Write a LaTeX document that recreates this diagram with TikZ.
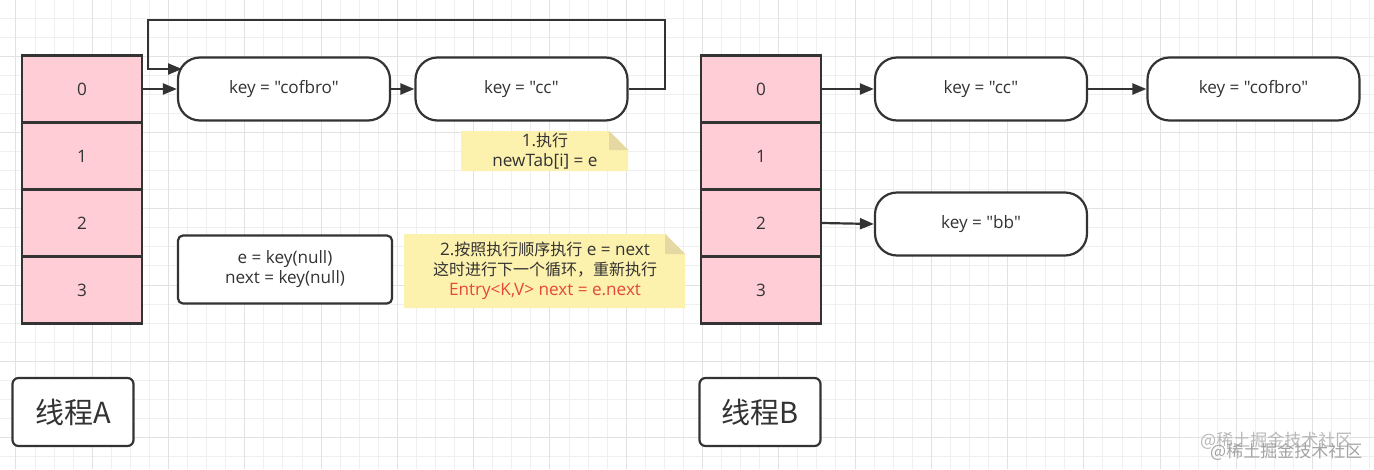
\documentclass[tikz,border=0pt]{standalone}
\usepackage{fontspec}
\setmainfont{Open Sans}[Scale=1.07, Ligatures=TeXOff]
\newfontfamily\cjk{Noto Sans CJK SC}
\usetikzlibrary{arrows.meta}
\definecolor{ink}{HTML}{333333}
\definecolor{cellpink}{HTML}{FFCDD5}
\definecolor{notefill}{HTML}{FDF1AE}
\definecolor{notefold}{HTML}{E6D8A2}
\definecolor{redtxt}{HTML}{E5483B}
\definecolor{gridminor}{HTML}{EFEFEF}
\definecolor{gridmajor}{HTML}{E2E2E2}
\tikzset{
  cell/.style={draw=ink, fill=cellpink, line width=2.2pt, minimum width=120pt, minimum height=67pt, inner sep=0pt, text=ink, font=\fontsize{16}{20}\selectfont},
  entry/.style={draw=ink, fill=white, line width=2.2pt, minimum width=212pt, minimum height=63pt, rounded corners=22pt, inner sep=0pt, text=ink, font=\fontsize{16}{20}\selectfont},
  varbox/.style={draw=ink, fill=white, line width=2.2pt, minimum width=214pt, minimum height=68pt, rounded corners=5pt, inner sep=0pt, text=ink, align=center, font=\fontsize{16}{20}\selectfont},
  thread/.style={draw=ink, fill=white, line width=2.2pt, minimum width=121pt, minimum height=68pt, rounded corners=6pt, inner sep=0pt, text=ink, font=\cjk\fontsize{29}{34}\selectfont},
  notetext/.style={inner sep=0pt, text=ink, align=center, font=\fontsize{16}{20}\selectfont},
  arr/.style={draw=ink, line width=2.2pt, -{Triangle[length=14pt,width=11pt]}},
  wmark/.style={inner sep=0pt, anchor=west, font=\cjk\fontsize{17}{20}\selectfont},
}
\begin{document}
\begin{tikzpicture}[x=1pt,y=-1pt]
\useasboundingbox (0,0) rectangle (1374,469);
\fill[white] (0,0) rectangle (1374,469);
% grid
\foreach \x in {15.93,35,...,1374} \draw[gridminor, line width=0.9pt] (\x,0) -- (\x,469);
\foreach \y in {-1.07,18,...,469} \draw[gridminor, line width=0.9pt] (0,\y) -- (1374,\y);
\foreach \x in {15.93,92.21,...,1374} \draw[gridmajor, line width=0.9pt] (\x,0) -- (\x,469);
\foreach \y in {56.2,132.48,...,469} \draw[gridmajor, line width=0.9pt] (0,\y) -- (1374,\y);

% ---------- Thread A ----------
\node[cell] (A0) at (82,89) {0};
\node[cell] (A1) at (82,156) {1};
\node[cell] (A2) at (82,223) {2};
\node[cell] (A3) at (82,290) {3};

\node[entry] (cofA) at (284,89) {key = "cofbro"};
\node[entry] (ccA) at (521.5,89) {key = "cc"};

\draw[arr] (A0.east) -- (cofA.west);
\draw[arr] (cofA.east) -- (ccA.west);
\coordinate (lp1) at (665,20);
\coordinate (lp2) at (148,20);
\coordinate (lp3) at (182,69);
\draw[arr] (ccA.east) -| (lp1) -- (lp2) |- (lp3);

% note 1
\fill[notefill] (461,171) -- (461,131) -- (609,131) -- (628,150) -- (628,171) -- cycle;
\fill[notefold] (609,131) -- (609,150) -- (628,150) -- cycle;
\node[notetext] (note1) at (545,151) {1.{\cjk 执行}\\newTab[i] = e};

% var box
\node[varbox] (vars) at (285,269.5) {e = key(null)\\next = key(null)};

% note 2
\fill[notefill] (404,308) -- (404,234) -- (665,234) -- (685,254) -- (685,308) -- cycle;
\fill[notefold] (665,234) -- (665,254) -- (685,254) -- cycle;
\node[notetext] (note2) at (545,271) {2.{\cjk 按照执行顺序执行} e = next\\{\cjk 这时进行下一个循环，重新执行}\\\textcolor{redtxt}{Entry<K,V> next = e.next}};

\node[thread] (thA) at (73,412) {线程A};

% ---------- Thread B ----------
\node[cell] (B0) at (761,89) {0};
\node[cell] (B1) at (761,156) {1};
\node[cell] (B2) at (761,223) {2};
\node[cell] (B3) at (761,290) {3};

\node[entry] (ccB) at (981,89) {key = "cc"};
\node[entry] (cofB) at (1253.5,89) {key = "cofbro"};
\node[entry] (bbB) at (981,224) {key = "bb"};

\draw[arr] (B0.east) -- (ccB.west);
\draw[arr] (ccB.east) -- (cofB.west);
\draw[arr] (B2.east) -- (bbB.west);

\node[thread] (thB) at (760,412) {线程B};

% watermark (doubled, as in the reference)
\node[wmark, text=black!28] (wm1) at (1200,441) {@稀土掘金技术社区};
\node[wmark, text=black!36] (wm2) at (1210,452) {@稀土掘金技术社区};
\end{tikzpicture}
\end{document}
